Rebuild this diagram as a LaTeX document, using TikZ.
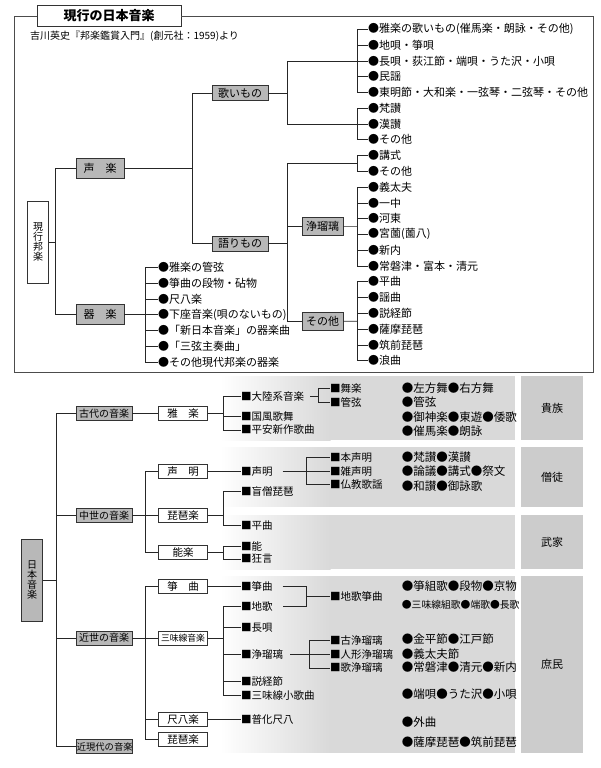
\documentclass[tikz,border=0pt]{standalone}
\usepackage{fontspec}
\setmainfont{Noto Sans CJK JP}
\definecolor{boxgray}{gray}{0.72}
\definecolor{bandgray}{gray}{0.85}
\definecolor{clsgray}{gray}{0.80}
\begin{document}
\begin{tikzpicture}[x=1pt,y=-1pt,
  every node/.style={font=\fontsize{11}{12}\selectfont},
  link/.style={draw=black!85,line width=0.6pt},
  graybox/.style={draw=black!80,line width=0.7pt,fill=boxgray,inner sep=0pt,minimum height=15},
  whitebox/.style={draw=black!80,line width=0.7pt,fill=white,inner sep=0pt,minimum height=14,minimum width=48.6,font=\fontsize{10.5}{12}\selectfont},
  erabox/.style={graybox,minimum width=56,minimum height=14,font=\fontsize{10}{12}\selectfont},
  tallbox/.style={draw=black!80,line width=0.7pt,inner sep=0pt,minimum width=21,minimum height=82,align=center,font=\fontsize{10}{10}\selectfont},
  item/.style={anchor=west,inner sep=0pt},
  sq/.style={item,font=\fontsize{10.5}{12}\selectfont},
  dot/.style={item,font=\fontsize{11.5}{12}\selectfont}]
\useasboundingbox (0,0) rectangle (600,768);

% ---- upper panel: 現行の日本音楽
\node[draw=black!80,line width=0.7pt,fill=white,minimum width=144,minimum height=21,inner sep=0pt,font=\bfseries\fontsize{13}{14}\selectfont] (title) at (109,16) {現行の日本音楽};
\draw[draw=black!70,line width=0.7pt] (title.west) -| (14,372) -| (593,16) -- (title.east);
\node[item,font=\fontsize{10}{12}\selectfont] (source) at (30,36) {吉川英史『邦楽鑑賞入門』(創元社：1959)より};

\node[tallbox,fill=white] (genko) at (38.2,242) {現\\行\\邦\\楽};
\node[graybox,minimum width=48,minimum height=20] (seigaku) at (100,168) {声　楽};
\node[graybox,minimum width=48,minimum height=20] (kigaku) at (100,314.7) {器　楽};
\node[graybox,minimum width=56] (utai) at (240,93) {歌いもの};
\node[graybox,minimum width=56] (katari) at (240,243.5) {語りもの};
\node[graybox,minimum width=41,minimum height=18] (joruri) at (322.5,226.6) {浄瑠璃};
\node[graybox,minimum width=41,minimum height=18] (sonota) at (322.5,321.2) {その他};

%right column of items
\foreach \t [count=\i from 0] in {雅楽の歌いもの(催馬楽・朗詠・その他), 地唄・箏唄, 長唄・荻江節・端唄・うた沢・小唄, 民謡, 東明節・大和楽・一弦琴・二弦琴・その他, 梵讃, 漢讃, その他, 講式, その他, 義太夫, 一中, 河東, 宮薗(薗八), 新内, 常磐津・富本・清元, 平曲, 謡曲, 説経節, 薩摩琵琶, 筑前琵琶, 浪曲}
  \node[item] (b\i) at (368,{29.3+15.78*\i}) {●\t};
%left column of items (器楽)
\foreach \t [count=\i from 0] in {雅楽の管弦, 箏曲の段物・砧物, 尺八楽, 下座音楽(唄のないもの), 「新日本音楽」の器楽曲, 「三弦主奏曲」, その他現代邦楽の器楽}
  \node[item] (g\i) at (158,{267.3+15.8*\i}) {●\t};

% junctions
\coordinate (jA) at (357,{29.3+15.78*2});
\coordinate (jB) at (357,{29.3+15.78*6});
\coordinate (jC) at (357,{29.3+15.78*8.5});
\coordinate (jD) at (357,{29.3+15.78*12.5});
\coordinate (jE) at (357,{29.3+15.78*18.5});
\coordinate (jF) at (145,314.7);
\foreach \i in {0,...,4} \draw[link] (jA) |- (b\i.west);
\foreach \i in {5,...,7} \draw[link] (jB) |- (b\i.west);
\foreach \i in {8,9} \draw[link] (jC) |- (b\i.west);
\foreach \i in {10,...,15} \draw[link] (jD) |- (b\i.west);
\foreach \i in {16,...,21} \draw[link] (jE) |- (b\i.west);
\foreach \i in {0,...,6} \draw[link] (jF) |- (g\i.west);

\draw[link] (genko.east) -- ++(6.3,0) coordinate (jG);
\draw[link] (jG) |- (seigaku.west);
\draw[link] (jG) |- (kigaku.west);
\draw[link] (seigaku.east) -- ++(68,0) coordinate (jH);
\draw[link] (jH) |- (utai.west);
\draw[link] (jH) |- (katari.west);
\draw[link] (utai.east) -- ++(19,0) coordinate (jI);
\draw[link] (jI) |- (jA);
\draw[link] (jI) |- (jB);
\draw[link] (katari.east) -- ++(19,0) coordinate (jJ);
\draw[link] (jJ) |- (jC);
\draw[link] (jJ) |- (joruri.west);
\draw[link] (jJ) |- (sonota.west);
\draw[link] (joruri.east) -- (jD);
\draw[link] (sonota.east) -- (jE);
\draw[link] (kigaku.east) -- (jF);

% ---- lower panel: 日本音楽
%bands and social classes
\foreach \ya/\yb/\who/\n in {376/440/貴族/kizoku, 447.3/506.7/僧徒/soto, 515/569/武家/buke, 576/752.7/庶民/shomin} {
  \shade[left color=white,right color=bandgray] (220,\ya) rectangle (330.5,\yb);
  \fill[bandgray] (330,\ya) rectangle (515,\yb);
  \node[fill=clsgray,minimum width=62,minimum height={\yb-\ya},inner sep=0pt] (\n) at (552,{(\ya+\yb)/2}) {\who};
}

\node[tallbox,fill=boxgray] (nihon) at (32.2,580.3) {日\\本\\音\\楽};
\node[erabox] (kodai) at (104,413.7) {古代の音楽};
\node[erabox] (chusei) at (104,515.3) {中世の音楽};
\node[erabox] (kinsei) at (104,638) {近世の音楽};
\node[erabox,font=\fontsize{9.3}{10}\selectfont] (kingendai) at (104.7,746.7) {近現代の音楽};

\node[whitebox] (gagaku) at (183,413.7) {雅　楽};
\node[whitebox] (shomyo) at (183,471.7) {声　明};
\node[whitebox] (biwaA) at (183,515.3) {琵琶楽};
\node[whitebox] (nogaku) at (183,552.7) {能楽};
\node[whitebox] (sokyoku) at (183,586.7) {箏　曲};
\node[whitebox,font=\fontsize{8.8}{10}\selectfont] (shamisen) at (183,638) {三味線音楽};
\node[whitebox] (shakuhachi) at (183,719.3) {尺八楽};
\node[whitebox] (biwaB) at (183,739.7) {琵琶楽};

\node[sq] (tairiku) at (241,396.3) {■大陸系音楽};
\node[sq] (kokufu) at (241,416.7) {■国風歌舞};
\node[sq] (heian) at (241,430) {■平安新作歌曲};
\node[sq] (shomyoS) at (241,471.7) {■声明};
\node[sq] (moso) at (241,491.7) {■盲僧琵琶};
\node[sq] (heikyoku) at (241,525.7) {■平曲};
\node[sq] (no) at (241,546.3) {■能};
\node[sq] (kyogen) at (241,559) {■狂言};
\node[sq] (sokyokuS) at (241,586.7) {■箏曲};
\node[sq] (jiuta) at (241,606.7) {■地歌};
\node[sq] (nagauta) at (241,627.3) {■長唄};
\node[sq] (joruriS) at (241,654.7) {■浄瑠璃};
\node[sq] (sekkyo) at (241,681.7) {■説経節};
\node[sq] (kouta) at (241,695.7) {■三味線小歌曲};
\node[sq] (fuke) at (241,719.3) {■普化尺八};

\node[sq] (bugaku) at (330,388.7) {■舞楽};
\node[sq] (kangen) at (330,402.7) {■管弦};
\node[sq] (hon) at (330,457.3) {■本声明};
\node[sq] (zatsu) at (330,471.7) {■雑声明};
\node[sq] (bukkyo) at (330,484.7) {■仏教歌謡};
\node[sq] (jisou) at (330,596.5) {■地歌箏曲};
\node[sq] (kojoruri) at (330,640.7) {■古浄瑠璃};
\node[sq] (ningyo) at (330,654.7) {■人形浄瑠璃};
\node[sq] (utajoruri) at (330,668) {■歌浄瑠璃};

%pieces
\foreach \y/\t [count=\i] in {388.3/左方舞●右方舞, 402.3/管弦, 416.7/御神楽●東遊●倭歌, 430.7/催馬楽●朗詠, 457.3/梵讃●漢讃, 470.7/論議●講式●祭文, 485.7/和讃●御詠歌, 585.7/箏組歌●段物●京物, 639.3/金平節●江戸節, 654/義太夫節, 666.7/常磐津●清元●新内, 694.3/端唄●うた沢●小唄, 721.7/外曲, 741.7/薩摩琵琶●筑前琵琶}
  \node[dot] (p\i) at (401.7,\y) {●\t};
\node[dot,font=\fontsize{9.8}{11}\selectfont] (p15) at (401.7,604.3) {●三味線組歌●端歌●長歌};

%connectors
\draw[link] (nihon.east) -- ++(13.3,0) coordinate (jN);
\foreach \e in {kodai,chusei,kinsei,kingendai} \draw[link] (jN) |- (\e.west);
\draw[link] (kodai.east) -- (gagaku.west);
\draw[link] (chusei.east) -- ++(13.3,0) coordinate (jM);
\foreach \e in {shomyo,biwaA,nogaku} \draw[link] (jM) |- (\e.west);
\draw[link] (kinsei.east) -- ++(13.3,0) coordinate (jK);
\foreach \e in {sokyoku,shamisen,shakuhachi,biwaB} \draw[link] (jK) |- (\e.west);

\draw[link] (gagaku.east) -- ++(15.4,0) coordinate (jGa);
\foreach \e in {tairiku,kokufu,heian} \draw[link] (jGa) |- (\e.west);
\draw[link] (shomyo.east) -- (shomyoS.west);
\draw[link] (biwaA.east) -- ++(15.4,0) coordinate (jBi);
\foreach \e in {moso,heikyoku} \draw[link] (jBi) |- (\e.west);
\draw[link] (nogaku.east) -- ++(15.4,0) coordinate (jNo);
\foreach \e in {no,kyogen} \draw[link] (jNo) |- (\e.west);
\draw[link] (sokyoku.east) -- (sokyokuS.west);
\draw[link] (shamisen.east) -- ++(15.4,0) coordinate (jSh);
\foreach \e in {jiuta,nagauta,joruriS,sekkyo,kouta} \draw[link] (jSh) |- (\e.west);
\draw[link] (shakuhachi.east) -- (fuke.west);

\path (tairiku.west) ++(69,0) coordinate (tA);
\draw[link] (tA) -- ++(8,0) coordinate (jTa);
\foreach \e in {bugaku,kangen} \draw[link] (jTa) |- (\e.west);
\path (shomyoS.west) ++(41.7,0) coordinate (tB);
\draw[link] (tB) -- ++(23.3,0) coordinate (jSm);
\foreach \e in {hon,zatsu,bukkyo} \draw[link] (jSm) |- (\e.west);
\path (sokyokuS.west) ++(41.7,0) coordinate (tC);
\path (jiuta.west) ++(41.7,0) coordinate (tD);
\draw[link] (tC) -- ++(23.3,0) |- (tD);
\draw[link] (jisou.west) -- ++(-24,0);
\path (joruriS.west) ++(49,0) coordinate (tE);
\draw[link] (tE) -- ++(19.3,0) coordinate (jJo);
\foreach \e in {kojoruri,ningyo,utajoruri} \draw[link] (jJo) |- (\e.west);
\end{tikzpicture}
\end{document}
